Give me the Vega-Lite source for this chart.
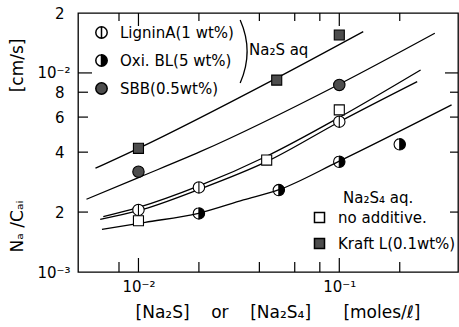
{
  "$schema": "https://vega.github.io/schema/vega-lite/v6.json",
  "width": 380,
  "height": 259,
  "autosize": {"type": "none"},
  "padding": {"left": 78, "top": 13, "right": 1, "bottom": 55},
  "config": {
    "font": "DejaVu Sans",
    "view": {"stroke": "black", "strokeWidth": 1.3},
    "axis": {"tickSize": 0, "domain": false, "grid": false, "labelColor": "black", "labelFontSize": 15, "labelOverlap": false, "labelFlush": false, "titleColor": "black", "titleFontWeight": "normal"}
  },
  "datasets": {
    "curves": [
      {"curve": "fit_kraft", "x": 0.00611, "y": 0.00332},
      {"curve": "fit_kraft", "x": 0.01, "y": 0.00418},
      {"curve": "fit_kraft", "x": 0.0468, "y": 0.00922},
      {"curve": "fit_kraft", "x": 0.1316, "y": 0.01613},
      {"curve": "fit_sbb", "x": 0.00551, "y": 0.00232},
      {"curve": "fit_sbb", "x": 0.01, "y": 0.00298},
      {"curve": "fit_sbb", "x": 0.0203, "y": 0.00402},
      {"curve": "fit_sbb", "x": 0.0983, "y": 0.0087},
      {"curve": "fit_sbb", "x": 0.299, "y": 0.01583},
      {"curve": "fit_noadd", "x": 0.00668, "y": 0.001896},
      {"curve": "fit_noadd", "x": 0.01, "y": 0.00211},
      {"curve": "fit_noadd", "x": 0.02, "y": 0.002705},
      {"curve": "fit_noadd", "x": 0.0437, "y": 0.003827},
      {"curve": "fit_noadd", "x": 0.1008, "y": 0.006009},
      {"curve": "fit_noadd", "x": 0.2541, "y": 0.01035},
      {"curve": "fit_lignin", "x": 0.00645, "y": 0.00184},
      {"curve": "fit_lignin", "x": 0.01, "y": 0.002032},
      {"curve": "fit_lignin", "x": 0.02, "y": 0.002598},
      {"curve": "fit_lignin", "x": 0.0437, "y": 0.003592},
      {"curve": "fit_lignin", "x": 0.1008, "y": 0.005704},
      {"curve": "fit_lignin", "x": 0.2443, "y": 0.009043},
      {"curve": "fit_oxi", "x": 0.00658, "y": 0.001639},
      {"curve": "fit_oxi", "x": 0.0108, "y": 0.001777},
      {"curve": "fit_oxi", "x": 0.0199, "y": 0.001972},
      {"curve": "fit_oxi", "x": 0.0333, "y": 0.0023},
      {"curve": "fit_oxi", "x": 0.0497, "y": 0.002583},
      {"curve": "fit_oxi", "x": 0.0989, "y": 0.003584},
      {"curve": "fit_oxi", "x": 0.3624, "y": 0.006906}
    ],
    "pts": [
      {"group": "Na2S", "series": "LigninA(1 wt%)", "x": 0.01, "y": 0.00205},
      {"group": "Na2S", "series": "LigninA(1 wt%)", "x": 0.02, "y": 0.00266},
      {"group": "Na2S", "series": "LigninA(1 wt%)", "x": 0.1, "y": 0.00569},
      {"group": "Na2S", "series": "Oxi. BL(5 wt%)", "x": 0.02, "y": 0.00197},
      {"group": "Na2S", "series": "Oxi. BL(5 wt%)", "x": 0.05, "y": 0.00258},
      {"group": "Na2S", "series": "Oxi. BL(5 wt%)", "x": 0.1, "y": 0.00358},
      {"group": "Na2S", "series": "Oxi. BL(5 wt%)", "x": 0.2, "y": 0.00438},
      {"group": "Na2S", "series": "SBB(0.5wt%)", "x": 0.01, "y": 0.00319},
      {"group": "Na2S", "series": "SBB(0.5wt%)", "x": 0.1, "y": 0.0087},
      {"group": "Na2S4", "series": "no additive.", "x": 0.01, "y": 0.00181},
      {"group": "Na2S4", "series": "no additive.", "x": 0.0435, "y": 0.00365},
      {"group": "Na2S4", "series": "no additive.", "x": 0.1, "y": 0.00652},
      {"group": "Na2S4", "series": "Kraft L(0.1wt%)", "x": 0.01, "y": 0.00418},
      {"group": "Na2S4", "series": "Kraft L(0.1wt%)", "x": 0.0488, "y": 0.0092},
      {"group": "Na2S4", "series": "Kraft L(0.1wt%)", "x": 0.1, "y": 0.0155}
    ],
    "xmajor": [{"v": 0.01}, {"v": 0.1}],
    "xminor": [{"v": 0.008}, {"v": 0.02}, {"v": 0.04}, {"v": 0.06}, {"v": 0.08}, {"v": 0.2}],
    "ymajor": [{"v": 0.01}],
    "yminor": [{"v": 0.002}, {"v": 0.004}, {"v": 0.006}, {"v": 0.008}]
  },
  "layer": [
    {
      "data": {"name": "xmajor"},
      "mark": {"type": "point", "shape": "M0,0L0,-1", "size": 784, "filled": false, "color": "black", "strokeWidth": 1.2, "opacity": 1},
      "encoding": {
        "x": {"field": "v", "type": "quantitative", "axis": null},
        "y": {"datum": 0.001, "type": "quantitative", "axis": null}
      }
    },
    {
      "data": {"name": "xminor"},
      "mark": {"type": "point", "shape": "M0,0L0,-1", "size": 400, "filled": false, "color": "black", "strokeWidth": 1.2, "opacity": 1},
      "encoding": {
        "x": {"field": "v", "type": "quantitative", "axis": null},
        "y": {"datum": 0.001, "type": "quantitative", "axis": null}
      }
    },
    {
      "data": {"name": "xmajor"},
      "mark": {"type": "point", "shape": "M0,0L0,1", "size": 676, "filled": false, "color": "black", "strokeWidth": 1.2, "opacity": 1},
      "encoding": {
        "x": {"field": "v", "type": "quantitative", "axis": null},
        "y": {"datum": 0.02, "type": "quantitative", "axis": null}
      }
    },
    {
      "data": {"name": "xminor"},
      "mark": {"type": "point", "shape": "M0,0L0,1", "size": 256, "filled": false, "color": "black", "strokeWidth": 1.2, "opacity": 1},
      "encoding": {
        "x": {"field": "v", "type": "quantitative", "axis": null},
        "y": {"datum": 0.02, "type": "quantitative", "axis": null}
      }
    },
    {
      "data": {"name": "ymajor"},
      "mark": {"type": "point", "shape": "M0,0L1,0", "size": 784, "filled": false, "color": "black", "strokeWidth": 1.2, "opacity": 1},
      "encoding": {
        "y": {"field": "v", "type": "quantitative", "axis": null},
        "x": {"datum": 0.005, "type": "quantitative", "axis": null}
      }
    },
    {
      "data": {"name": "yminor"},
      "mark": {"type": "point", "shape": "M0,0L1,0", "size": 400, "filled": false, "color": "black", "strokeWidth": 1.2, "opacity": 1},
      "encoding": {
        "y": {"field": "v", "type": "quantitative", "axis": null},
        "x": {"datum": 0.005, "type": "quantitative", "axis": null}
      }
    },
    {
      "data": {"name": "ymajor"},
      "mark": {"type": "point", "shape": "M0,0L-1,0", "size": 676, "filled": false, "color": "black", "strokeWidth": 1.2, "opacity": 1},
      "encoding": {
        "y": {"field": "v", "type": "quantitative", "axis": null},
        "x": {"datum": 0.39, "type": "quantitative", "axis": null}
      }
    },
    {
      "data": {"name": "yminor"},
      "mark": {"type": "point", "shape": "M0,0L-1,0", "size": 256, "filled": false, "color": "black", "strokeWidth": 1.2, "opacity": 1},
      "encoding": {
        "y": {"field": "v", "type": "quantitative", "axis": null},
        "x": {"datum": 0.39, "type": "quantitative", "axis": null}
      }
    },
    {
      "data": {"name": "curves"},
      "mark": {"type": "line", "interpolate": "monotone", "color": "black", "strokeWidth": 1.3},
      "encoding": {
        "x": {
          "field": "x", "type": "quantitative",
          "scale": {"type": "log", "domain": [0.005, 0.39], "nice": false},
          "axis": {
            "orient": "bottom",
            "values": [0.01, 0.1],
            "labelExpr": "datum.value == 0.01 ? '10⁻²' : '10⁻¹'",
            "labelPadding": 7,
            "title": "[Na₂S]\u00a0\u00a0\u00a0\u00a0or\u00a0\u00a0\u00a0\u00a0[Na₂S₄]\u00a0\u00a0\u00a0\u00a0\u00a0\u00a0[moles/ℓ]",
            "titleFontSize": 17,
            "titleX": 199.5, "titleY": 45, "titleBaseline": "alphabetic", "titleAlign": "center"
          }
        },
        "y": {
          "field": "y", "type": "quantitative",
          "scale": {"type": "log", "domain": [0.001, 0.02], "nice": false},
          "axis": {
            "orient": "left",
            "values": [0.001, 0.01],
            "labelExpr": "datum.value == 0.001 ? '10⁻³' : '10⁻²'",
            "labelPadding": 8,
            "title": "Nₐ /Cₐᵢ\u00a0\u00a0\u00a0\u00a0\u00a0\u00a0\u00a0\u00a0\u00a0\u00a0\u00a0\u00a0\u00a0\u00a0\u00a0\u00a0\u00a0\u00a0\u00a0\u00a0[cm/s]",
            "titleFontSize": 17,
            "titleX": -61, "titleY": 132, "titleAngle": -90, "titleBaseline": "middle", "titleAlign": "center"
          }
        },
        "detail": {"field": "curve"}
      }
    },
    {
      "data": {"name": "pts"},
      "transform": [{"filter": "datum.group == 'Na2S'"}],
      "mark": {"type": "point", "filled": true, "stroke": "black", "strokeWidth": 1.1, "size": 130, "opacity": 1},
      "encoding": {
        "x": {"field": "x", "type": "quantitative", "axis": null},
        "y": {"field": "y", "type": "quantitative", "axis": null},
        "shape": {
          "field": "series", "type": "nominal",
          "scale": {
            "domain": ["LigninA(1 wt%)", "Oxi. BL(5 wt%)", "SBB(0.5wt%)"],
            "range": ["M1,0A1,1 0 1,1 -1,0A1,1 0 1,1 1,0ZM0,-1L0,1", "M0,-1A1,1 0 0,1 0,1ZM0,1A1,1 0 0,1 0,-1A1,1 0 0,0 0,1", "circle"]
          },
          "legend": {
            "orient": "none", "legendX": 16, "legendY": 12, "padding": 0, "title": null,
            "labelFontSize": 15, "labelColor": "black", "labelOffset": 11, "rowPadding": 9,
            "symbolSize": 130, "symbolOpacity": 1,
            "encode": {"symbols": {"update": {"stroke": {"value": "black"}, "strokeWidth": {"value": 1.1}}}}
          }
        },
        "fill": {
          "field": "series", "type": "nominal",
          "scale": {
            "domain": ["LigninA(1 wt%)", "Oxi. BL(5 wt%)", "SBB(0.5wt%)"],
            "range": ["white", "black", "#4d4d4d"]
          },
          "legend": {
            "orient": "none", "legendX": 16, "legendY": 12, "padding": 0, "title": null,
            "labelFontSize": 15, "labelColor": "black", "labelOffset": 11, "rowPadding": 9,
            "symbolSize": 130, "symbolOpacity": 1,
            "encode": {"symbols": {"update": {"stroke": {"value": "black"}, "strokeWidth": {"value": 1.1}}}}
          }
        }
      }
    },
    {
      "data": {"name": "pts"},
      "transform": [{"filter": "datum.group == 'Na2S4'"}],
      "mark": {"type": "point", "filled": true, "stroke": "black", "strokeWidth": 1.1, "size": 130, "opacity": 1},
      "encoding": {
        "x": {"field": "x", "type": "quantitative", "axis": null},
        "y": {
          "field": "y", "type": "quantitative",
          "axis": {
            "orient": "left", "title": null, "values": [0.002, 0.004, 0.006, 0.008, 0.02],
            "labelExpr": "datum.value > 0.015 ? '2' : format(datum.value * 1000, 'd')",
            "labelPadding": 14
          }
        },
        "shape": {
          "field": "series", "type": "nominal",
          "scale": {
            "domain": ["no additive.", "Kraft L(0.1wt%)"],
            "range": ["M-0.88,-0.88H0.88V0.88H-0.88Z", "M-0.88,-0.88H0.88V0.88H-0.88Z"]
          },
          "legend": {
            "orient": "none", "legendX": 234, "legendY": 197, "padding": 0, "title": null,
            "labelFontSize": 15, "labelColor": "black", "labelOffset": 11, "rowPadding": 9,
            "symbolSize": 130, "symbolOpacity": 1,
            "encode": {"symbols": {"update": {"stroke": {"value": "black"}, "strokeWidth": {"value": 1.1}}}}
          }
        },
        "fill": {
          "field": "series", "type": "nominal",
          "scale": {
            "domain": ["no additive.", "Kraft L(0.1wt%)"],
            "range": ["white", "#4d4d4d"]
          },
          "legend": {
            "orient": "none", "legendX": 234, "legendY": 197, "padding": 0, "title": null,
            "labelFontSize": 15, "labelColor": "black", "labelOffset": 11, "rowPadding": 9,
            "symbolSize": 130, "symbolOpacity": 1,
            "encode": {"symbols": {"update": {"stroke": {"value": "black"}, "strokeWidth": {"value": 1.1}}}}
          }
        }
      }
    },
    {
      "data": {"values": [{}]},
      "mark": {"type": "point", "shape": "M-0.11,-1Q0.33,0 -0.11,1", "size": 3969, "color": "black", "strokeWidth": 1.3, "opacity": 1, "filled": false},
      "encoding": {
        "x": {"datum": 0.0334, "type": "quantitative", "axis": null},
        "y": {"datum": 0.01282, "type": "quantitative", "axis": null}
      }
    },
    {
      "data": {"values": [{}]},
      "mark": {"type": "text", "text": "Na₂S aq", "fontSize": 15, "align": "left", "baseline": "alphabetic", "color": "black"},
      "encoding": {
        "x": {"datum": 0.0355, "type": "quantitative", "axis": null},
        "y": {"datum": 0.01232, "type": "quantitative", "axis": null}
      }
    },
    {
      "data": {"values": [{}]},
      "mark": {"type": "text", "text": "Na₂S₄ aq.", "fontSize": 15, "align": "left", "baseline": "alphabetic", "color": "black"},
      "encoding": {
        "x": {"datum": 0.1043, "type": "quantitative", "axis": null},
        "y": {"datum": 0.00222, "type": "quantitative", "axis": null}
      }
    }
  ],
  "resolve": {
    "scale": {"shape": "independent", "fill": "independent"},
    "axis": {"x": "independent", "y": "independent"},
    "legend": {"shape": "independent", "fill": "independent"}
  }
}
